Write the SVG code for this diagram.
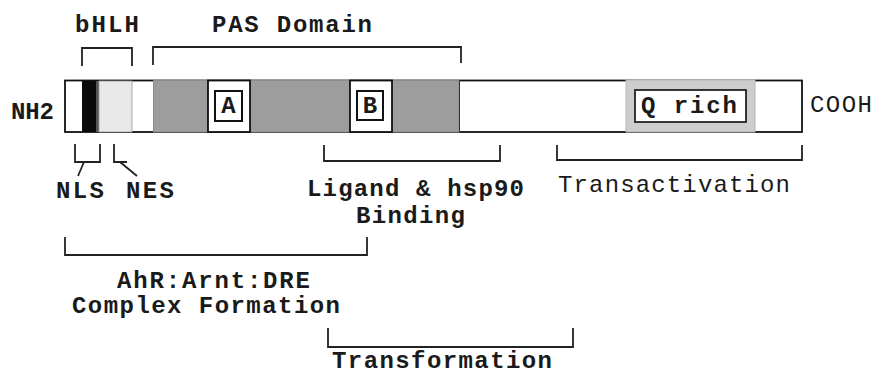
<svg xmlns="http://www.w3.org/2000/svg" width="872" height="375" viewBox="0 0 872 375">
<style>
  .t { font-family: "Liberation Mono", "Courier New", monospace; font-weight: bold; font-size: 24px; fill: #1a1a1a; }
  .n { font-weight: normal; }
  .br { fill: none; stroke: #222; stroke-width: 1.8; }
  .gray { fill: #9d9d9d; stroke: #8c8c8c; stroke-width: 1; }
  .wbox { fill: #fff; stroke: #111; stroke-width: 2; }
</style>
<rect width="872" height="375" fill="#fff"/>

<g id="protein-bar">
  <rect x="65" y="80.5" width="737" height="51.5" fill="#fff" stroke="#111" stroke-width="1.8"/>
  <rect x="82" y="81" width="14" height="51" fill="#0a0a0a"/>
  <rect x="96" y="81" width="3" height="51" fill="#555"/>
  <rect x="99" y="81" width="33" height="51" fill="#e8e8e8" stroke="#999" stroke-width="0.8"/>
  <rect x="153.5" y="80.5" width="54" height="51.5" class="gray"/>
  <rect x="250" y="80.5" width="99.5" height="51.5" class="gray"/>
  <rect x="392" y="80.5" width="67" height="51.5" class="gray"/>
  <line x1="459.5" y1="80.5" x2="459.5" y2="132" stroke="#333" stroke-width="1"/>
</g>

<g id="domain-A">
  <rect x="208" y="80.5" width="42" height="51.5" fill="#fff" stroke="#111" stroke-width="1.8"/>
  <rect x="215" y="91" width="27" height="30" class="wbox"/>
  <text class="t" x="228.5" y="113" text-anchor="middle" font-size="22">A</text>
</g>

<g id="domain-B">
  <rect x="350" y="80.5" width="42" height="51.5" fill="#fff" stroke="#111" stroke-width="1.8"/>
  <rect x="357" y="91" width="26" height="29" class="wbox"/>
  <text class="t" x="370" y="113" text-anchor="middle" font-size="22">B</text>
</g>

<g id="q-rich">
  <rect x="626" y="80" width="129" height="52" fill="#cdcdcd" stroke="#b5b5b5" stroke-width="1"/>
  <rect x="635" y="90" width="111" height="32" fill="#fff" stroke="#222" stroke-width="1.8"/>
  <text class="t" x="641" y="113" textLength="96">Q rich</text>
</g>

<g id="termini">
  <text class="t" x="11" y="119" font-size="19" textLength="43">NH2</text>
  <text class="t n" x="810" y="112" font-size="21" textLength="62">COOH</text>
</g>

<g id="connectors">
  <path class="br" d="M82,66 V48 H132 V66"/>
  <path class="br" d="M153,65 V47 H461 V63"/>
  <path class="br" d="M75,144 V162 H100 V144"/>
  <path class="br" d="M84,162 L78,176"/>
  <path class="br" d="M114,144 V162 H127"/>
  <path class="br" d="M120,162 L137,176"/>
  <path class="br" d="M324,145 V161 H500 V145"/>
  <path class="br" d="M557,145 V160 H802 V145"/>
  <path class="br" d="M65,237 V255 H367 V237"/>
  <path class="br" d="M328,328 V347 H573 V328"/>
</g>

<g id="labels">
  <text class="t" x="75" y="32" textLength="64">bHLH</text>
  <text class="t" x="212" y="32" textLength="160">PAS Domain</text>
  <text class="t" x="56" y="198" textLength="48">NLS</text>
  <text class="t" x="126" y="198" textLength="48">NES</text>
  <text class="t" x="307" y="196" textLength="217">Ligand &amp; hsp90</text>
  <text class="t" x="356" y="223" textLength="109">Binding</text>
  <text class="t n" x="558" y="192" textLength="232">Transactivation</text>
  <text class="t" x="117" y="288" textLength="193">AhR:Arnt:DRE</text>
  <text class="t" x="72" y="313" textLength="268">Complex Formation</text>
  <text class="t" x="332" y="368" textLength="220">Transformation</text>
</g>
</svg>
